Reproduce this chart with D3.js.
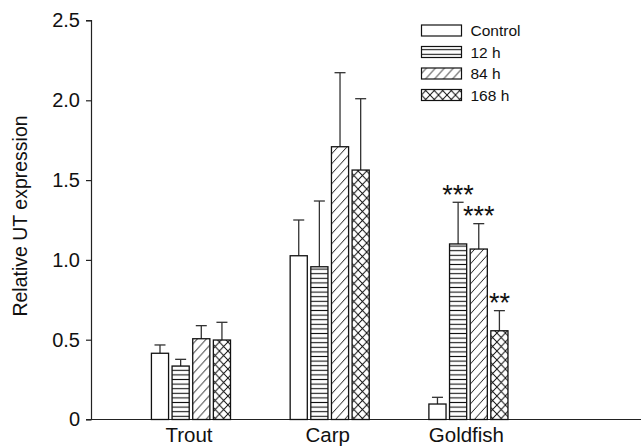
<!DOCTYPE html>
<html>
<head>
<meta charset="utf-8">
<script src="https://cdn.jsdelivr.net/npm/d3@7"></script>
<style>
	body { margin: 0; background: #fff; }
	svg { display: block; font-family: "Liberation Sans", Arial, Helvetica, sans-serif; }
</style>
</head>
<body>
<div id="chart"></div>
<script>
// data
const fish = ["Trout", "Carp", "Goldfish"]
const groups = ["Control", "12 h", "84 h", "168 h"]
const trout_mean = [0.415, 0.335, 0.506, 0.498]
const trout_sem = [0.052, 0.042, 0.082, 0.111]
const carp_mean = [1.026, 0.957, 1.709, 1.563]
const carp_sem = [0.224, 0.412, 0.464, 0.447]
const goldfish_mean = [0.097, 1.100, 1.068, 0.556]
const goldfish_sem = [0.042, 0.261, 0.159, 0.126]
const goldfish_stars = ["", "***", "***", "**"]
const y_ticks = [0, 0.5, 1.0, 1.5, 2.0, 2.5]

class ExpressionChart {
	constructor(id) {
		this.width = 644
		this.height = 448
		this.left = 91.5
		this.right = 641
		this.top = 20.5
		this.bottom = 419.5
		this.label_size = 20
		this.container = document.getElementById(id)
		this.rows = [trout_mean, carp_mean, goldfish_mean].map((means, i) => {
			const sems = [trout_sem, carp_sem, goldfish_sem][i]
			const stars = i == 2 ? goldfish_stars : ["", "", "", ""]
			return groups.map((g, j) => ({fish: fish[i], group: g, mean: means[j], sem: sems[j], star: stars[j]}))
		})
		this.fill = {"Control": "#fff", "12 h": "url(#hlines)", "84 h": "url(#diag)", "168 h": "url(#cross)"}
	}

	render() {
		this.svg = d3.select(this.container)
			.append("svg")
			.attr("width", this.width)
			.attr("height", this.height)
		this.patterns()
		this.axes()
		this.bars()
		this.legend()
	}

	patterns() {
		const defs = this.svg.append("defs")
		defs.append("pattern")
			.attr("id", "hlines")
			.attr("patternUnits", "userSpaceOnUse")
			.attr("width", 10).attr("height", 4.6)
			.append("path")
			.attr("d", "M0,2.3 L10,2.3")
			.attr("stroke", "#111").attr("stroke-width", 1.1)
		defs.append("pattern")
			.attr("id", "diag")
			.attr("patternUnits", "userSpaceOnUse")
			.attr("width", 9).attr("height", 10)
			.append("path")
			.attr("d", "M0,10 L9,0 M-4.5,5 L0,0 M9,10 L13.5,5")
			.attr("stroke", "#111").attr("stroke-width", 1)
		defs.append("pattern")
			.attr("id", "cross")
			.attr("patternUnits", "userSpaceOnUse")
			.attr("width", 8.5).attr("height", 9)
			.append("path")
			.attr("d", "M0,0 L8.5,9 M8.5,0 L0,9")
			.attr("stroke", "#111").attr("stroke-width", 1)
	}

	axes() {
		this.y = d3.scaleLinear()
			.domain([0, 2.5])
			.range([this.bottom, this.top])

		this.x0 = d3.scaleBand()
			.domain(fish)
			.range([121.6, 537.8])
			.paddingInner(0.43)
			.paddingOuter(0.215)

		this.x1 = d3.scaleBand()
			.domain(groups)
			.range([0, this.x0.bandwidth()])
			.paddingInner(0.17)

		const y_axis = d3.axisLeft(this.y)
			.tickValues(y_ticks)
			.tickSize(5.5)
			.tickPadding(6)
			.tickFormat(d => d == 0 ? "0" : d3.format(".1f")(d))

		const ya = this.svg.append("g")
			.attr("transform", `translate(${this.left},0)`)
			.call(y_axis)
		ya.select(".domain").attr("d", `M-5.5,${this.top}H0V${this.bottom}`).attr("stroke", "#222").attr("stroke-width", 1.2)
		ya.selectAll(".tick line").attr("stroke", "#222").attr("stroke-width", 1.2)
		ya.selectAll(".tick text")
			.attr("font-size", this.label_size)
			.attr("font-family", "Liberation Sans, Arial, sans-serif")
			.attr("fill", "#111")

		this.svg.append("line")
			.attr("x1", this.left - 5.5).attr("x2", this.right)
			.attr("y1", this.bottom).attr("y2", this.bottom)
			.attr("stroke", "#222").attr("stroke-width", 1.2)

		this.svg.append("text")
			.attr("transform", `translate(27.3,216) rotate(-90)`)
			.attr("text-anchor", "middle")
			.attr("font-size", 19.5)
			.attr("fill", "#111")
			.text("Relative UT expression")

		this.svg.append("g")
			.selectAll("text")
			.data(fish)
			.join("text")
			.attr("x", d => this.x0(d) + this.x0.bandwidth() / 2 - 2)
			.attr("y", 441.7)
			.attr("text-anchor", "middle")
			.attr("font-size", 20.5)
			.attr("fill", "#111")
			.text(d => d)
	}

	bars() {
		const g = this.svg.append("g").selectAll("g")
			.data(this.rows)
			.join("g")
			.attr("transform", d => `translate(${this.x0(d[0].fish)},0)`)

		const cell = g.selectAll("g")
			.data(d => d)
			.join("g")

		const cap = 5.5
		cell.append("line")
			.attr("x1", d => this.x1(d.group) + this.x1.bandwidth() / 2)
			.attr("x2", d => this.x1(d.group) + this.x1.bandwidth() / 2)
			.attr("y1", d => this.y(d.mean))
			.attr("y2", d => this.y(d.mean + d.sem))
			.attr("stroke", "#333").attr("stroke-width", 1.3)
		cell.append("line")
			.attr("x1", d => this.x1(d.group) + this.x1.bandwidth() / 2 - cap)
			.attr("x2", d => this.x1(d.group) + this.x1.bandwidth() / 2 + cap)
			.attr("y1", d => this.y(d.mean + d.sem))
			.attr("y2", d => this.y(d.mean + d.sem))
			.attr("stroke", "#333").attr("stroke-width", 1.3)

		cell.append("rect")
			.attr("x", d => this.x1(d.group))
			.attr("y", d => this.y(d.mean))
			.attr("width", this.x1.bandwidth())
			.attr("height", d => this.y(0) - this.y(d.mean))
			.attr("fill", d => this.fill[d.group])
			.attr("stroke", "#111")
			.attr("stroke-width", 1.3)

		cell.filter(d => d.star != "")
			.append("text")
			.attr("x", d => this.x1(d.group) + this.x1.bandwidth() / 2)
			.attr("y", d => this.y(d.mean + d.sem) + 1.5)
			.attr("text-anchor", "middle")
			.attr("font-size", 27)
			.attr("fill", "#111")
			.text(d => d.star)
	}

	legend() {
		const lg = this.svg.append("g")
			.selectAll("g")
			.data(groups)
			.join("g")
			.attr("transform", (d, i) => `translate(421.5,${30.5 + i * 21.5})`)
		lg.append("rect")
			.attr("x", 0).attr("y", -5.5)
			.attr("width", 40).attr("height", 11)
			.attr("fill", d => this.fill[d])
			.attr("stroke", "#111").attr("stroke-width", 1.2)
		lg.append("text")
			.attr("x", 49)
			.attr("y", 0)
			.attr("dy", "0.36em")
			.attr("font-size", 15.5)
			.attr("fill", "#111")
			.text(d => d)
	}
}

new ExpressionChart("chart").render()
</script>
</body>
</html>
